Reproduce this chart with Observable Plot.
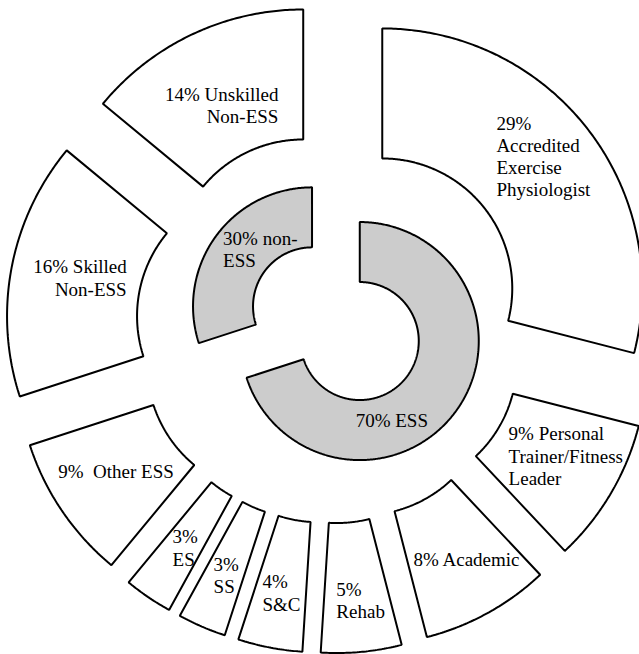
<!DOCTYPE html>
<html>
<head>
<meta charset="utf-8">
<script src="https://cdn.jsdelivr.net/npm/d3@7"></script>
<script src="https://cdn.jsdelivr.net/npm/@observablehq/plot@0.6"></script>
<style>
  html, body { margin: 0; padding: 0; background: #ffffff; }
  #chart svg { display: block; background: #ffffff; }
  #chart svg text, #chart svg tspan { font-family: "Liberation Serif", "Times New Roman", Times, "DejaVu Serif", serif !important; }
</style>
</head>
<body>
<div id="chart"></div>
<script>
// ---------- DATA ----------
const outerCategories = [
  "Accredited Exercise Physiologist",
  "Personal Trainer/Fitness Leader",
  "Academic",
  "Rehab",
  "S&C",
  "SS",
  "ES",
  "Other ESS",
  "Skilled Non-ESS",
  "Unskilled Non-ESS"
];
const outerValues = [29, 9, 8, 5, 4, 3, 3, 9, 16, 14];
const outerLabels = [
  "29%\nAccredited\nExercise\nPhysiologist",
  "9% Personal\nTrainer/Fitness\nLeader",
  "8% Academic",
  "5%\nRehab",
  "4%\nS&C",
  "3%\nSS",
  "3%\nES",
  "9%\u00a0 Other ESS",
  "16% Skilled\nNon-ESS",
  "14% Unskilled\nNon-ESS"
];

const innerCategories = ["ESS", "non-ESS"];
const innerValues = [70, 30];
const innerLabels = ["70% ESS", "30% non-\nESS"];

// ---------- LAYOUT (not data) ----------
const W = 639, H = 654;
const outerRing = {cx: 0, cy: 0, r0: 130, r1: 260, explode: 65};
const innerRing = {cx: 5, cy: -4.6, r0: 59, r1: 119, explode: 29.5};
// label placement inside each slice: t = fraction along the slice's angle, f = fraction across its width
const outerLabelLayout = [
  {t: 0.39, f: 0.346, anchor: "start"},
  {t: 0.72, f: 0.184, anchor: "start"},
  {t: 0.93, f: 0.396, anchor: "start"},
  {t: 0.81, f: 0.59, anchor: "start"},
  {t: 0.84, f: 0.60, anchor: "start"},
  {t: 0.75, f: 0.60, anchor: "start"},
  {t: 0.70, f: 0.58, anchor: "start"},
  {t: 0.76, f: 0.87, anchor: "start"},
  {t: 0.58, f: 0.12, anchor: "end"},
  {t: 0.83, f: 0.28, anchor: "end"}
];
const innerLabelLayout = [
  {t: 0.726, f: 0.34, anchor: "start"},
  {t: 0.47, f: 0.78, anchor: "start"}
];

// ---------- GEOMETRY FROM DATA ----------
const rad = d => d * Math.PI / 180;
function polar(cx, cy, r, deg) {
  return [cx + r * Math.sin(rad(deg)), cy - r * Math.cos(rad(deg))];
}
function buildRing(cats, values, labels, cfg, layout, ringName) {
  const total = d3.sum(values);
  let acc = 0;
  const pts = [], labs = [];
  values.forEach((v, i) => {
    const a0 = acc / total * 360;
    acc += v;
    const a1 = acc / total * 360;
    const mid = (a0 + a1) / 2;
    const [sx, sy] = polar(cfg.cx, cfg.cy, cfg.explode, mid);
    const n = Math.max(2, Math.ceil((a1 - a0) / 0.5));
    const key = ringName + ":" + cats[i];
    for (let k = 0; k <= n; k++) {
      const a = a0 + (a1 - a0) * k / n;
      const [x, y] = polar(sx, sy, cfg.r1, a);
      pts.push({key, x, y});
    }
    for (let k = n; k >= 0; k--) {
      const a = a0 + (a1 - a0) * k / n;
      const [x, y] = polar(sx, sy, cfg.r0, a);
      pts.push({key, x, y});
    }
    const L = layout[i];
    const [lx, ly] = polar(sx, sy, cfg.r0 + L.f * (cfg.r1 - cfg.r0), a0 + L.t * (a1 - a0));
    labs.push({x: lx, y: ly, text: labels[i], anchor: L.anchor});
  });
  return {pts, labs};
}

const outer = buildRing(outerCategories, outerValues, outerLabels, outerRing, outerLabelLayout, "outer");
const inner = buildRing(innerCategories, innerValues, innerLabels, innerRing, innerLabelLayout, "inner");
const allLabels = outer.labs.concat(inner.labs);

const textStyle = {
  x: "x", y: "y", text: "text",
  fontFamily: "Liberation Serif, DejaVu Serif, serif",
  fontSize: 19,
  lineHeight: 1.17,
  lineAnchor: "middle",
  fill: "black"
};

const chart = Plot.plot({
  width: W,
  height: H,
  margin: 0,
  style: {background: "#ffffff", overflow: "hidden", fontFamily: "Liberation Serif, DejaVu Serif, serif"},
  x: {domain: [-330.4, W - 330.4], range: [0, W], axis: null},
  y: {domain: [-327.8, H - 327.8], range: [0, H], axis: null},
  marks: [
    Plot.line(outer.pts, {x: "x", y: "y", z: "key", curve: "linear-closed", fill: "white", stroke: "black", strokeWidth: 2, strokeLinejoin: "miter"}),
    Plot.line(inner.pts, {x: "x", y: "y", z: "key", curve: "linear-closed", fill: "#cccccc", stroke: "black", strokeWidth: 2, strokeLinejoin: "miter"}),
    Plot.text(allLabels.filter(d => d.anchor === "start"), {...textStyle, textAnchor: "start"}),
    Plot.text(allLabels.filter(d => d.anchor === "end"), {...textStyle, textAnchor: "end"})
  ]
});
document.getElementById("chart").appendChild(chart);
</script>
</body>
</html>
